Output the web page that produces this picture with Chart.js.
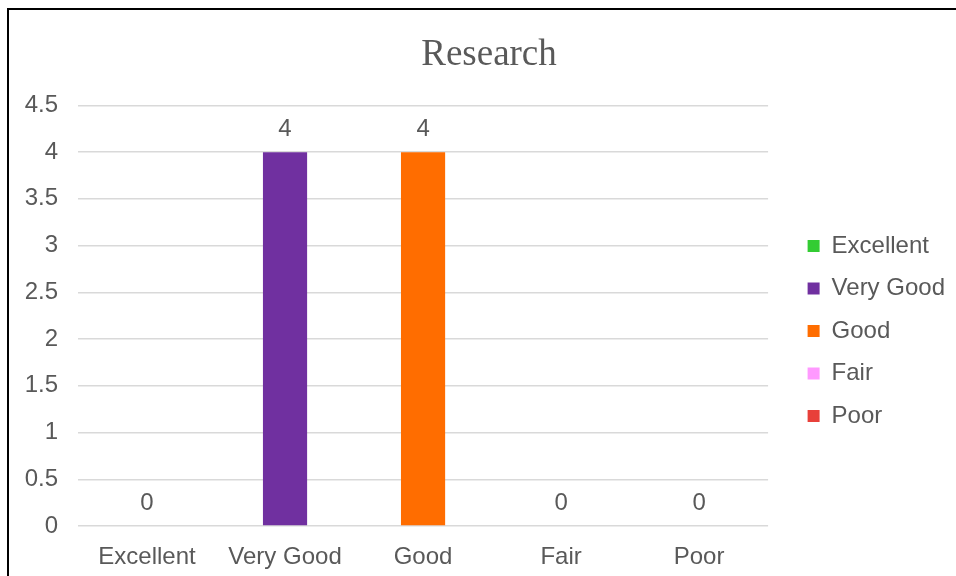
<!DOCTYPE html>
<html>
<head>
<meta charset="utf-8">
<script src="https://cdn.jsdelivr.net/npm/chart.js@4.4.0/dist/chart.umd.min.js"></script>
<style>
  html, body { margin: 0; padding: 0; background: #fff; overflow: hidden; }
  #box { position: absolute; left: 7px; top: 8px; width: 1000px; height: 600px; border-left: 2px solid #000; border-top: 2px solid #000; }
  #wrap { position: absolute; left: 8px; top: 0; width: 962px; height: 576px; }
</style>
</head>
<body>
<div id="box"></div>
<div id="wrap"><canvas id="chart"></canvas></div>
<script>
    // data
    var categories = ['Excellent', 'Very Good', 'Good', 'Fair', 'Poor'];
    var values = [0, 4, 4, 0, 0];
    var barColors = ['#33cc33', '#7030a0', '#ff6d00', '#ff99ff', '#e8403a'];
    var yTicks = [0, 0.5, 1, 1.5, 2, 2.5, 3, 3.5, 4, 4.5];

    var textColor = '#595959';
    var sansFont = '"Liberation Sans", Arial, sans-serif';

    // nhãn số trên cột
    var valueLabels = {
        id: 'valueLabels',
        afterDatasetsDraw: function (chart) {
            var ctx = chart.ctx;
            var meta = chart.getDatasetMeta(0);
            ctx.save();
            ctx.font = '24px ' + sansFont;
            ctx.fillStyle = textColor;
            ctx.textAlign = 'center';
            ctx.textBaseline = 'middle';
            meta.data.forEach(function (bar, i) {
                ctx.fillText(String(values[i]), bar.x, bar.y - 23);
            });
            ctx.restore();
        }
    };

    // chú thích: rộng hơn một chút và dời xuống/sang phải
    var legendShift = {
        id: 'legendShift',
        beforeUpdate: function (chart) {
            var lg = chart.legend;
            if (lg && !lg._wide) {
                var fit = lg.fit;
                lg.fit = function () { fit.call(this); this.width += 36; };
                lg._wide = true;
            }
        },
        afterLayout: function (chart) {
            var lg = chart.legend;
            lg.left += 21; lg.right += 21;
            lg.top += 43; lg.bottom += 43;
        }
    };

    var ctx = document.getElementById('chart').getContext('2d');
    var chart = new Chart(ctx, {
        type: 'bar',
        data: {
            labels: categories,
            datasets: [{
                label: 'Research',
                data: values,
                backgroundColor: barColors,
                barPercentage: 0.32,
                categoryPercentage: 1
            }]
        },
        options: {
            responsive: true,
            maintainAspectRatio: false,
            animation: false,
            layout: { padding: 0 },
            plugins: {
                title: {
                    display: true,
                    text: 'Research',
                    color: textColor,
                    font: { family: '"Liberation Serif", "Times New Roman", serif', size: 37, weight: 'normal' },
                    padding: { top: 33, bottom: 28 }
                },
                legend: {
                    position: 'right',
                    labels: {
                        color: textColor,
                        font: { family: sansFont, size: 24 },
                        boxWidth: 12,
                        boxHeight: 12,
                        padding: 18.5,
                        generateLabels: function () {
                            return categories.map(function (c, i) {
                                return { text: c, fillStyle: barColors[i], strokeStyle: barColors[i], lineWidth: 0, index: i, fontColor: textColor };
                            });
                        }
                    }
                },
                tooltip: { enabled: false }
            },
            scales: {
                x: {
                    afterFit: function (scale) { scale.height = 50; },
                    grid: { display: false, drawTicks: false },
                    border: { display: false },
                    ticks: {
                        color: textColor,
                        font: { family: sansFont, size: 24 },
                        padding: 17,
                        maxRotation: 0
                    }
                },
                y: {
                    min: 0,
                    max: 4.5,
                    afterFit: function (scale) { scale.width = 70; },
                    afterBuildTicks: function (scale) {
                        scale.ticks = yTicks.map(function (v) { return { value: v }; });
                    },
                    grid: { color: '#d9d9d9', lineWidth: 1.5, drawTicks: false },
                    border: { display: false },
                    ticks: {
                        color: textColor,
                        font: { family: sansFont, size: 24 },
                        padding: 20,
                        callback: function (v) { return String(v); }
                    }
                }
            }
        },
        plugins: [valueLabels, legendShift]
    });
</script>
</body>
</html>
